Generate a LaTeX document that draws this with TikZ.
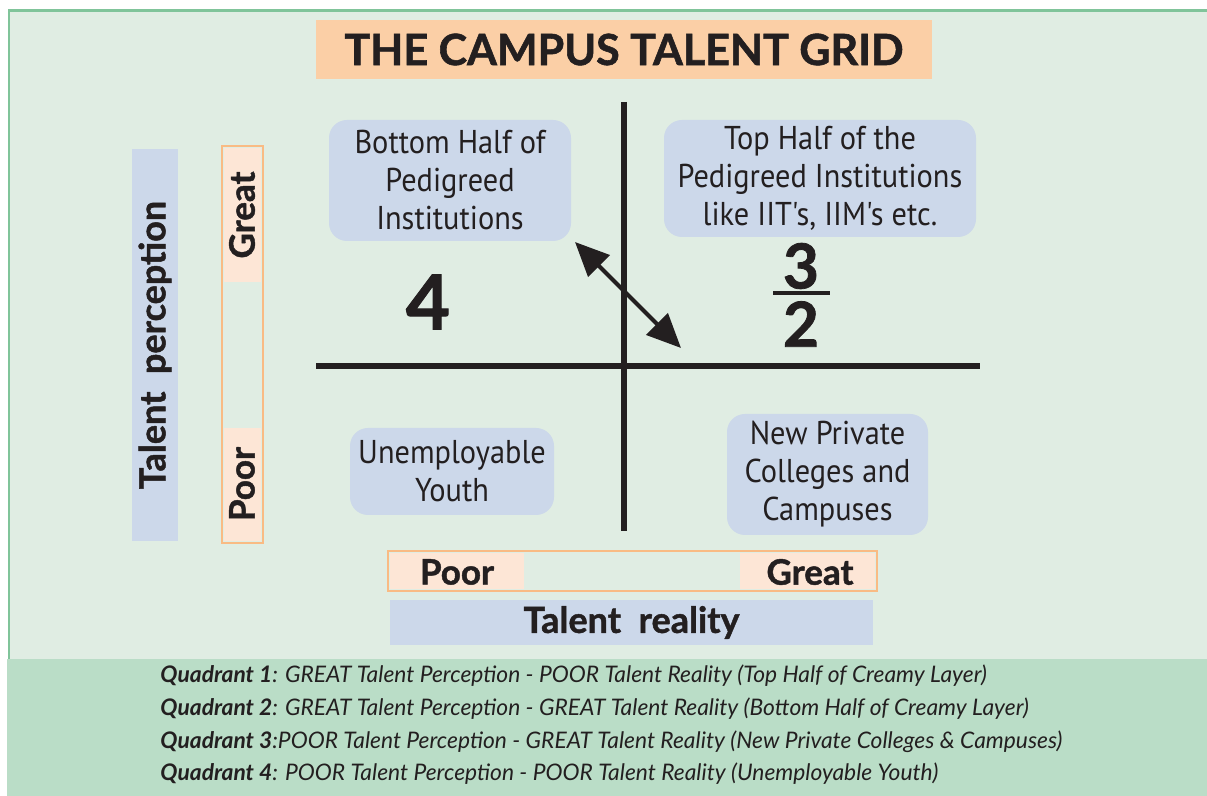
\documentclass[tikz,border=0pt]{standalone}
\usepackage{fontspec}
\setmainfont{Lato}
\newfontfamily\boxfont[FakeStretch=0.92]{PT Sans}
\newfontfamily\heavyfont[FakeBold=1.3]{Lato}
\usetikzlibrary{arrows.meta}
\definecolor{paper}{HTML}{E0EDE3}
\definecolor{framegreen}{HTML}{80C49A}
\definecolor{bandgreen}{HTML}{BADDC7}
\definecolor{titlepeach}{HTML}{FBCFA6}
\definecolor{lightpeach}{HTML}{FDE6D6}
\definecolor{peachline}{HTML}{F9BB84}
\definecolor{boxblue}{HTML}{CCD8EA}
\definecolor{ink}{HTML}{231F20}

\begin{document}
\begin{tikzpicture}[x=0.5pt, y=-0.5pt, text=ink,
  quadbox/.style={fill=boxblue, rounded corners=9pt, align=center, inner sep=0pt,
    font=\boxfont\fontsize{16.5}{19}\selectfont},
  bigword/.style={font=\heavyfont\bfseries\fontsize{17.5}{18}\selectfont, inner sep=0pt},
  axisline/.style={ink, line width=2.8pt},
  legendline/.style={anchor=west, inner sep=0pt, font=\itshape\fontsize{11.4}{12}\selectfont}]
\useasboundingbox (0,0) rectangle (1207,796);
\fill[white] (0,0) rectangle (1207,796);
\fill[paper] (8,10) rectangle (1207,659);
\fill[bandgreen] (7,659) rectangle (1207,796);
\draw[framegreen, line width=1.2pt] (9,659) |- (1207,10.5);

\node[fill=titlepeach, minimum width=308pt, minimum height=29.5pt, inner sep=0pt,
  font=\heavyfont\bfseries\fontsize{21.5}{24}\selectfont] (title) at (624,49.5) {THE CAMPUS TALENT GRID};

\coordinate (vtop) at (624,102);
\coordinate (vbot) at (624,531);
\coordinate (hleft) at (316,366);
\coordinate (hright) at (980,366);
\draw[axisline] (vtop) -- (vbot);
\draw[axisline] (hleft) -- (hright);

\node[quadbox, minimum width=121pt, minimum height=60.5pt] (boxTL) at (450,180.5)
  {Bottom Half of\\Pedigreed\\Institutions};
\node[quadbox, minimum width=156pt, minimum height=58.5pt] (boxTR) at (820,178.5)
  {Top Half of the\\Pedigreed Institutions\\like IIT's, IIM's etc.};
\node[quadbox, minimum width=102pt, minimum height=43.5pt] (boxBL) at (452,471.5)
  {Unemployable\\Youth};
\node[quadbox, minimum width=100.5pt, minimum height=60.5pt] (boxBR) at (827.5,474.5)
  {New Private\\Colleges and\\Campuses};

\node[font=\heavyfont\bfseries\fontsize{38}{40}\selectfont, inner sep=0pt] (four) at (428,302) {4};
\node[font=\heavyfont\bfseries\fontsize{31}{33}\selectfont, inner sep=0pt] (three) at (801,266) {3};
\node[font=\heavyfont\bfseries\fontsize{31}{33}\selectfont, inner sep=0pt] (two) at (801,324) {2};
\coordinate (barL) at (773,293);
\coordinate (barR) at (830,293);
\draw[ink, line width=1.6pt] (barL) -- (barR);

\coordinate (arrA) at (575,242);
\coordinate (arrB) at (681,348);
\draw[ink, line width=2pt, {Triangle[length=17pt,width=15pt]}-{Triangle[length=17pt,width=15pt]}] (arrA) -- (arrB);

\node[fill=boxblue, minimum width=196pt, minimum height=23pt, inner sep=0pt, rotate=90,
  font=\heavyfont\bfseries\fontsize{18}{18}\selectfont] (perception) at (155,345) {Talent\ \ perception};
\fill[lightpeach] (224,148) rectangle (261,282);
\fill[lightpeach] (224,428) rectangle (261,541);
\draw[peachline, line width=1.1pt] (222,146) rectangle (263,543);
\node[bigword, rotate=90] (pgreat) at (242,215) {Great};
\node[bigword, rotate=90] (ppoor) at (242,484) {Poor};

\fill[lightpeach] (390,553) rectangle (524,589);
\fill[lightpeach] (740,553) rectangle (875,589);
\draw[peachline, line width=1.1pt] (388,551) rectangle (877,591);
\node[bigword] (rpoor) at (457,572) {Poor};
\node[bigword] (rgreat) at (810,572) {Great};
\node[fill=boxblue, minimum width=241.5pt, minimum height=22.5pt, inner sep=0pt,
  font=\heavyfont\bfseries\fontsize{18}{18}\selectfont] (reality) at (631.5,622.5) {Talent\ \ reality};

\foreach \i/\y/\txt in {1/676/{: GREAT Talent Perception - POOR Talent Reality (Top Half of Creamy Layer)},
  2/709/{: GREAT Talent Perception - GREAT Talent Reality (Bottom Half of Creamy Layer)},
  3/742/{:POOR Talent Perception - GREAT Talent Reality (New Private Colleges \& Campuses)},
  4/774/{: POOR Talent Perception - POOR Talent Reality (Unemployable Youth)}}
  \node[legendline] (legend\i) at (160,\y) {\textbf{Quadrant \i}\txt};
\end{tikzpicture}
\end{document}
